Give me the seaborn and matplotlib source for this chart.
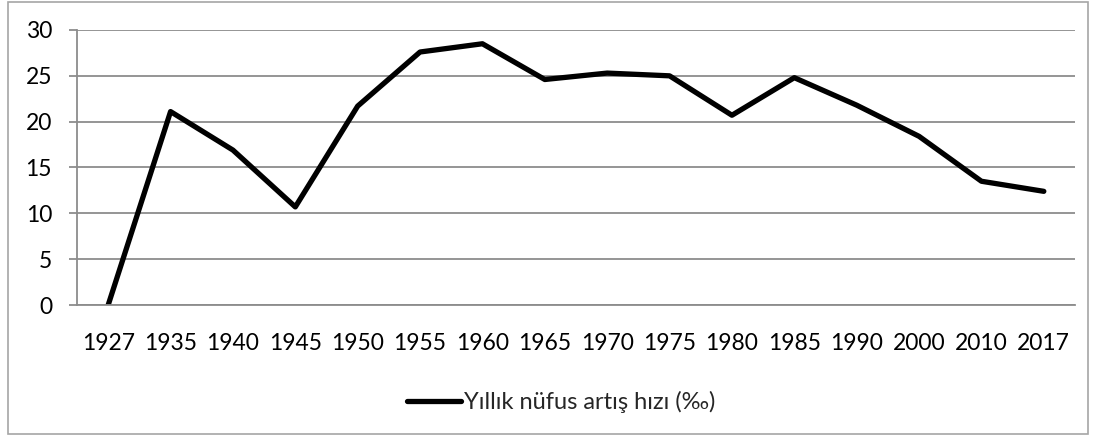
import matplotlib
matplotlib.use("Agg")
import matplotlib.pyplot as plt
import seaborn as sns
import pandas as pd
from matplotlib.patches import Rectangle

years = ["1927", "1935", "1940", "1945", "1950", "1955", "1960", "1965",
         "1970", "1975", "1980", "1985", "1990", "2000", "2010", "2017"]
rates = [0.0, 21.1, 16.9, 10.7, 21.7, 27.6, 28.5, 24.6,
         25.3, 25.0, 20.7, 24.8, 21.8, 18.4, 13.5, 12.4]
series_name = "Yıllık nüfus artış hızı (‰)"
y_ticks = [0, 5, 10, 15, 20, 25, 30]

df = pd.DataFrame({"year": years, "rate": rates})

sns.set_theme(style="white")
plt.rcParams["font.family"] = ["Lato", "DejaVu Sans"]

fig = plt.figure(figsize=(10.97, 4.36), dpi=100)
ax = fig.add_axes([77/1097, 1 - 305/436, (1075 - 77)/1097, 275/436])

sns.lineplot(data=df, x="year", y="rate", ax=ax, color="black",
             linewidth=3.8, label=series_name, sort=False)

ax.set_xlim(-0.5, len(years) - 0.5)
ax.set_ylim(0, 30)
ax.set_yticks(y_ticks)
ax.set_xticks(range(len(years)))
ax.set_xticklabels(years)
ax.set_xticks([i - 0.5 for i in range(len(years) + 1)], minor=True)
ax.set_xlabel("")
ax.set_ylabel("")

grid_c = "#8c8c8c"
ax.yaxis.grid(True, color=grid_c, linewidth=1.3)
ax.xaxis.grid(False)
ax.set_axisbelow(True)
for s in ["top", "right"]:
    ax.spines[s].set_visible(False)
for s in ["left", "bottom"]:
    ax.spines[s].set_color(grid_c)
    ax.spines[s].set_linewidth(1.3)

ax.tick_params(axis="x", which="major", length=0, pad=20, labelsize=16.5, colors="black")
ax.tick_params(axis="x", which="minor", length=7, width=1.3, color=grid_c, direction="out")
ax.tick_params(axis="y", which="major", length=6, width=1.3, color=grid_c, direction="out",
               labelsize=16.5, pad=12, left=True)
for lbl in ax.get_xticklabels() + ax.get_yticklabels():
    lbl.set_color("black")

ax.get_legend().remove()
handles, labels = ax.get_legend_handles_labels()
fig.legend(handles, labels, loc="center", bbox_to_anchor=(561/1097, 1 - 402/436), frameon=False,
           fontsize=17, handlelength=2.3, handletextpad=0.1)

fig.patches.append(Rectangle((8/1097, 2/436), (1088 - 8)/1097, (434 - 2)/436,
                             transform=fig.transFigure, fill=False,
                             edgecolor="#a6a6a6", linewidth=1.2))

fig.savefig("out.png", dpi=100)
